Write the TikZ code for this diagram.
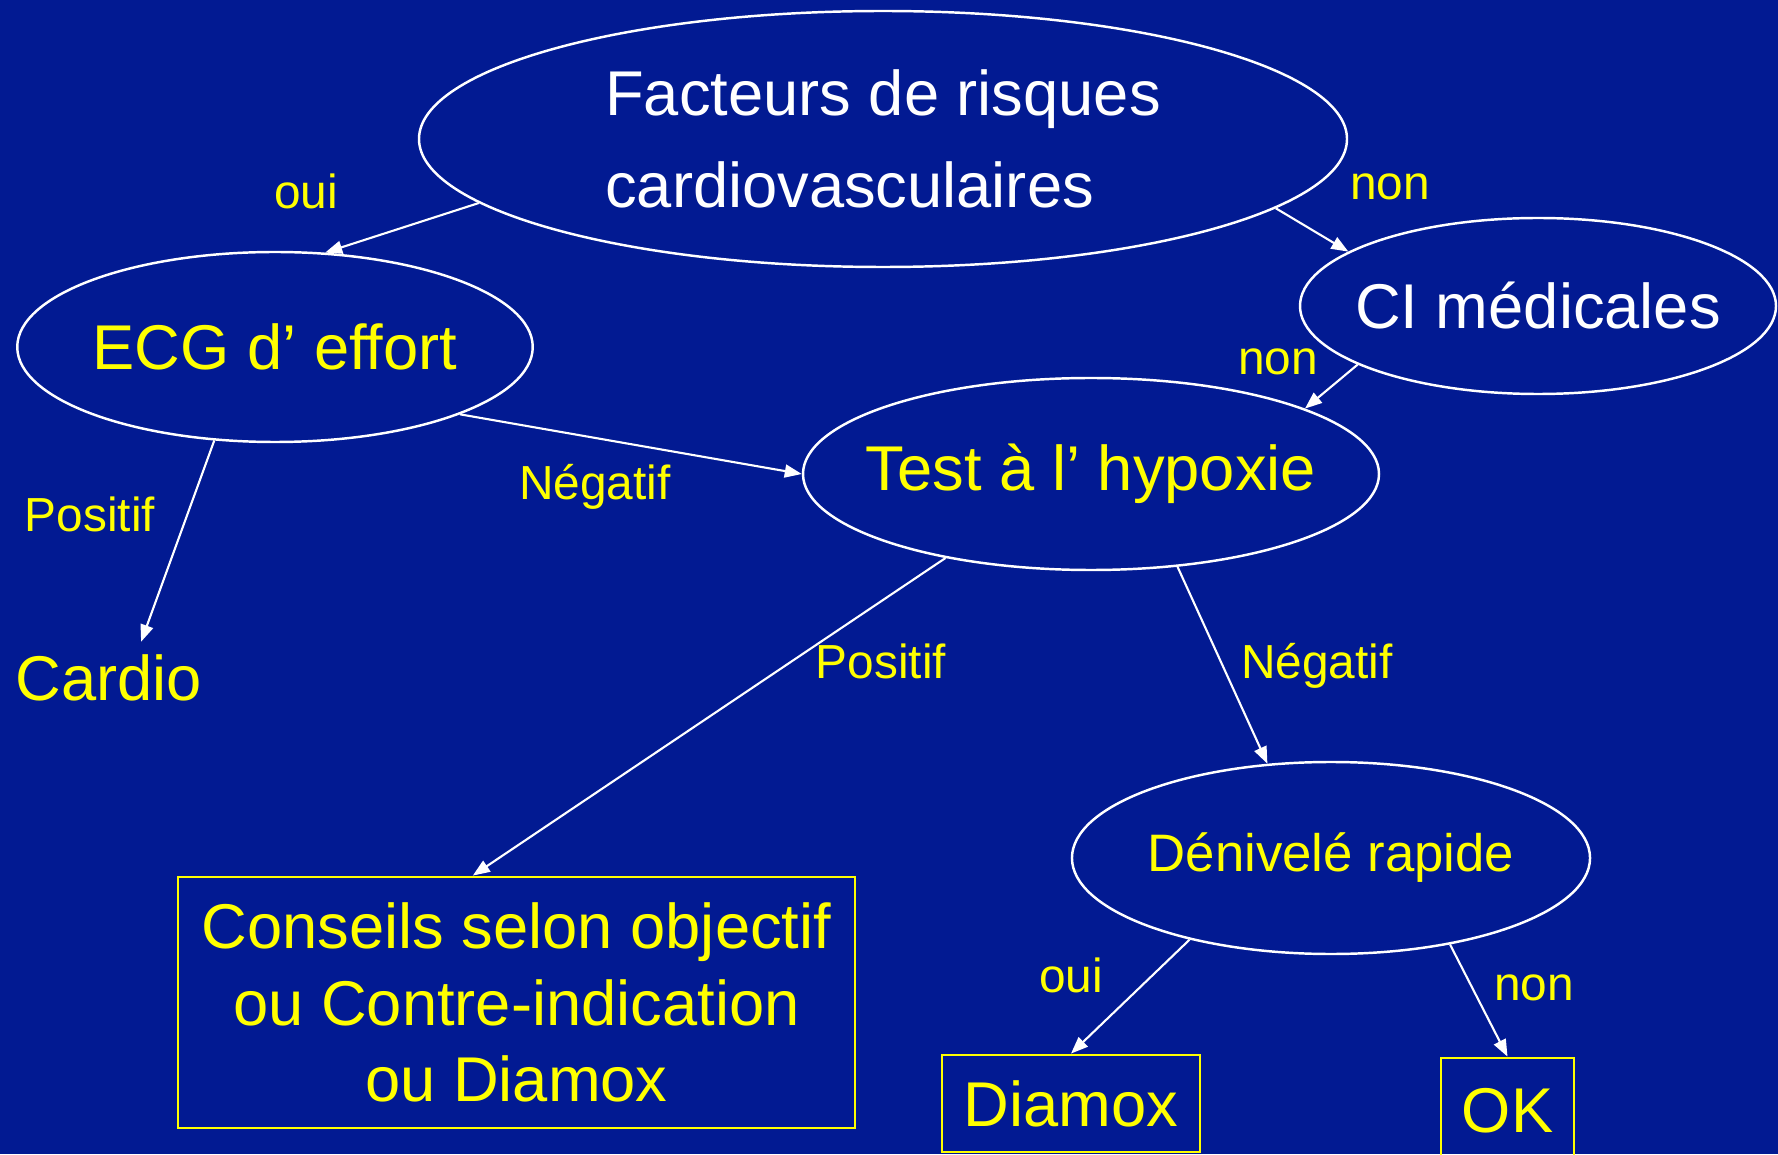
\documentclass[tikz,border=0pt]{standalone}
\usepackage{fontspec}
\setmainfont{Liberation Sans}
\usepackage{tikz}
\usetikzlibrary{arrows.meta,positioning,shapes.geometric}
\definecolor{slideblue}{RGB}{2,26,146}
\definecolor{slideyellow}{RGB}{255,255,0}

\begin{document}
\begin{tikzpicture}[
  choice/.style={draw=white, line width=0.7pt, ellipse, inner sep=0pt, align=center, font=\fontsize{18}{22}\selectfont},
  outcome/.style={draw=slideyellow, line width=0.8pt, inner sep=0pt, align=center, text=slideyellow, font=\fontsize{18}{21.8}\selectfont},
  arrow/.style={-{Triangle[length=1.7mm, width=1.3mm]}, white, line width=0.6pt},
  answer/.style={text=slideyellow, anchor=base, inner sep=0pt, font=\fontsize{13.6}{16}\selectfont}
]
\fill[slideblue] (0,0) rectangle (17.78,11.54);
\useasboundingbox (0,0) rectangle (17.78,11.54);

% questions
\node[choice, text=white, align=left, minimum width=9.28cm, minimum height=2.56cm, font=\fontsize{18}{26}\selectfont] (facteurs) at (8.83,10.15) {Facteurs de risques\\cardiovasculaires};
\node[choice, text=slideyellow, minimum width=5.12cm, minimum height=1.90cm] (ecg) at (2.75,8.07) {ECG d’ effort};
\node[choice, text=white, inner xsep=-0.25cm, minimum width=4.76cm, minimum height=1.76cm] (ci) at (15.38,8.48) {CI médicales};
\node[choice, text=slideyellow, inner xsep=-0.3cm, minimum width=5.76cm, minimum height=1.92cm] (hypoxie) at (10.91,6.80) {Test à l’ hypoxie};
\node[choice, text=slideyellow, minimum width=5.12cm, minimum height=1.92cm, font=\fontsize{15}{18}\selectfont] (denivele) at (13.31,2.96) {Dénivelé rapide};

% outcomes
\node[text=slideyellow, anchor=base, font=\fontsize{18}{22}\selectfont] (cardio) at (1.09,4.54) {Cardio};
\node[outcome, minimum width=6.77cm, minimum height=2.51cm] (conseils) at (5.165,1.515) {Conseils selon objectif\\ou Contre-indication\\ou Diamox};
\node[outcome, minimum width=2.58cm, minimum height=0.97cm] (diamox) at (10.71,0.505) {Diamox};
\node[outcome, minimum width=1.33cm, minimum height=1.06cm] (ok) at (15.075,0.43) {OK};

\draw[arrow] (facteurs.189) -- (ecg.62);
\draw[arrow] (facteurs.-10) -- (ci.164);
\draw[arrow] (ci.198) -- (hypoxie.17);
\draw[arrow] (ecg.-20) -- (hypoxie.west);
\draw[arrow] (ecg.237) -- (cardio.48);
\draw[arrow] (hypoxie.210) -- (conseils.109);
\draw[arrow] (hypoxie.-47) -- (denivele.124);
\draw[arrow] (denivele.210) -- (diamox.north);
\draw[arrow] (denivele.-36) -- (ok.north);

% answers
\node[answer] (oui-ecg) at (3.06,9.45) {oui};
\node[answer] (non-ci) at (13.90,9.54) {non};
\node[answer] (non-test) at (12.78,7.79) {non};
\node[answer] (neg-ecg) at (5.95,6.54) {Négatif};
\node[answer] (pos-ecg) at (0.90,6.22) {Positif};
\node[answer] (pos-test) at (8.81,4.76) {Positif};
\node[answer] (neg-test) at (13.17,4.76) {Négatif};
\node[answer] (oui-den) at (10.71,1.62) {oui};
\node[answer] (non-den) at (15.34,1.54) {non};
\end{tikzpicture}
\end{document}
